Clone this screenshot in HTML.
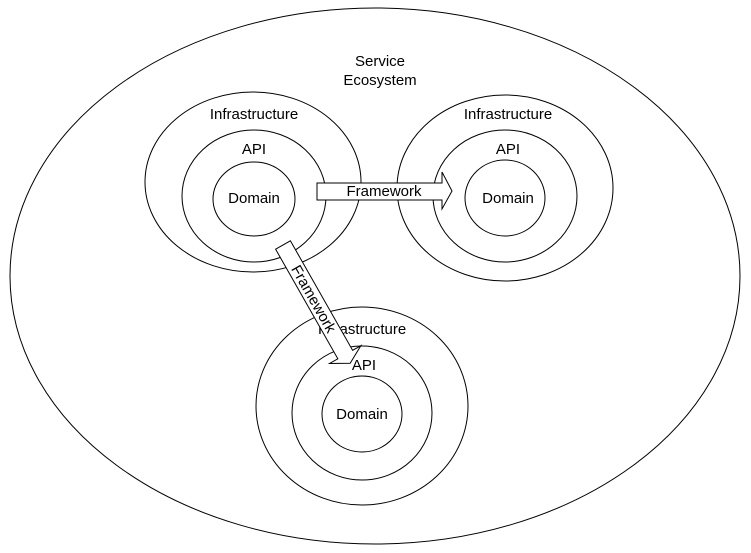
<!DOCTYPE html>
<html><head><style>body{margin:0;background:#fff}svg{display:block}text{font-family:"Liberation Sans",Helvetica,sans-serif;font-size:15px;fill:#000}</style></head>
<body>
<svg width="751" height="553" viewBox="0 0 751 553" xmlns="http://www.w3.org/2000/svg">
<g fill="none" stroke="#000" stroke-width="1">
<ellipse cx="375" cy="276" rx="365" ry="268"/>
<ellipse cx="253" cy="182" rx="108" ry="90"/>
<ellipse cx="254" cy="196" rx="72" ry="66"/>
<ellipse cx="254" cy="199" rx="41" ry="37"/>
<ellipse cx="505" cy="188" rx="108" ry="93"/>
<ellipse cx="505" cy="196" rx="72" ry="66"/>
<ellipse cx="505" cy="198" rx="40" ry="38"/>
<ellipse cx="362" cy="406" rx="106" ry="99"/>
<ellipse cx="362" cy="413" rx="70" ry="67"/>
<ellipse cx="362" cy="414" rx="40" ry="38"/>
</g>
<g text-anchor="middle">
<text x="380" y="66">Service</text>
<text x="380" y="85">Ecosystem</text>
<text x="254" y="119">Infrastructure</text>
<text x="254" y="154">API</text>
<text x="254" y="203">Domain</text>
<text x="508" y="119">Infrastructure</text>
<text x="508" y="154">API</text>
<text x="508" y="203">Domain</text>
<text x="362" y="334">Infrastructure</text>
<text x="364" y="370">API</text>
<text x="362" y="419">Domain</text>
</g>
<path d="M317,183 H442 V172 L452,191 L442,209 V200 H317 Z" fill="#fff" stroke="#000"/>
<text x="384" y="196" text-anchor="middle">Framework</text>
<g transform="translate(283,245) rotate(60.4)">
<path d="M0,-8.5 H126 V-18 L136,0 L126,18 V8.5 H0 Z" fill="#fff" stroke="#000"/>
<text x="62" y="5" text-anchor="middle">Framework</text>
</g>
</svg>
</body></html>
